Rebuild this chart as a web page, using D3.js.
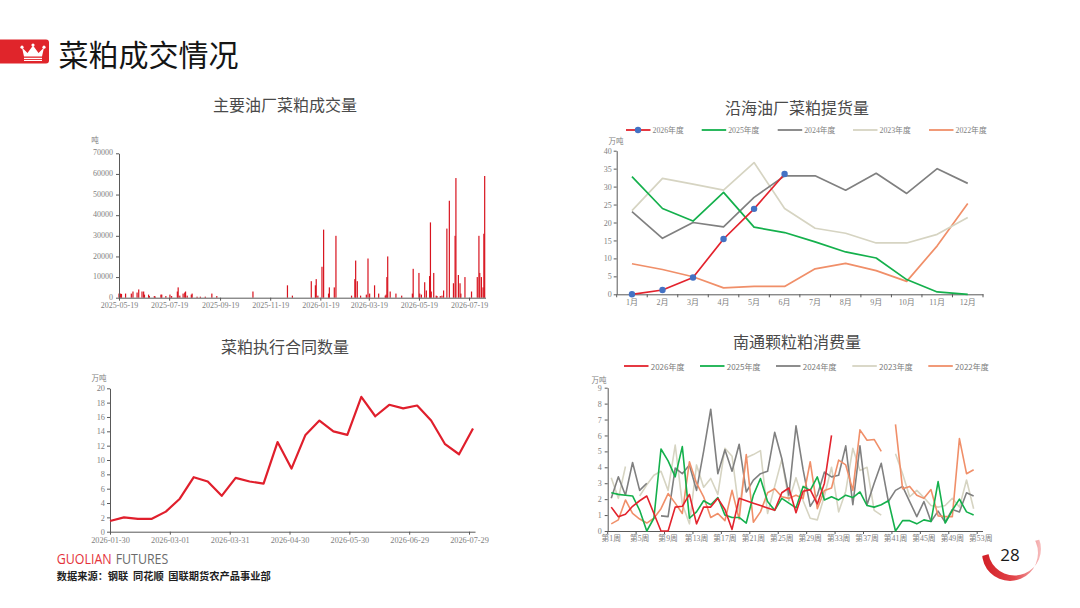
<!DOCTYPE html>
<html><head><meta charset="utf-8">
<script src="https://cdn.jsdelivr.net/npm/d3@7"></script>
<style>body{margin:0;background:#fff}svg{display:block}</style>
</head><body>
<svg id="c" width="1080" height="608"></svg>
<script>
// ---------- DATA ----------
// 主要油厂菜粕成交量 (吨)
const tradeDates = ["2025-05-19","2025-05-21","2025-05-22","2025-05-27","2025-06-03","2025-06-05","2025-06-10","2025-06-12","2025-06-16","2025-06-18","2025-06-19","2025-06-24","2025-06-25","2025-07-01","2025-07-02","2025-07-09","2025-07-10","2025-07-15","2025-07-20","2025-07-22","2025-07-29","2025-07-30","2025-08-01","2025-08-05","2025-08-07","2025-08-08","2025-08-10","2025-08-15","2025-08-16","2025-08-22","2025-08-26","2025-09-01","2025-09-09","2025-09-15","2025-10-29","2025-12-10","2025-12-16","2026-01-08","2026-01-13","2026-01-14","2026-01-16","2026-01-21","2026-01-23","2026-01-29","2026-01-30","2026-02-05","2026-02-07","2026-02-26","2026-03-02","2026-03-03","2026-03-05","2026-03-09","2026-03-16","2026-03-18","2026-03-20","2026-03-26","2026-03-31","2026-04-08","2026-04-09","2026-04-10","2026-04-11","2026-04-14","2026-04-21","2026-04-28","2026-05-11","2026-05-12","2026-05-19","2026-05-20","2026-05-22","2026-05-26","2026-05-28","2026-06-01","2026-06-02","2026-06-03","2026-06-06","2026-06-09","2026-06-10","2026-06-14","2026-06-16","2026-06-18","2026-06-22","2026-06-25","2026-06-30","2026-07-02","2026-07-03","2026-07-06","2026-07-08","2026-07-09","2026-07-14","2026-07-22","2026-07-29","2026-07-31","2026-08-01","2026-08-03","2026-08-05","2026-08-06","2026-08-07"];
const tradeVolumes = [2000,2000,1800,2000,2000,3000,2500,4000,3000,3000,1500,1500,800,800,600,1500,1500,800,1500,800,3000,5000,1000,2000,2500,3000,1000,1500,2000,500,500,500,2000,800,3000,6000,1000,8000,6000,9000,1000,15000,33000,2000,5000,5000,30000,1000,9000,18000,8000,1000,1500,19000,2000,6000,2000,1000,1500,10000,20000,3000,2000,1000,2000,14000,12000,2000,1500,7500,3500,10500,36500,3000,12000,1000,800,800,1000,3500,33500,47000,7000,30000,58000,11000,7000,2000,10000,3000,10000,30000,12000,10000,5000,31000,59000];
const tradeTicks = ["2025-05-19","2025-07-19","2025-09-19","2025-11-19","2026-01-19","2026-03-19","2026-05-19","2026-07-19"];
const tradeYTicks = [0,10000,20000,30000,40000,50000,60000,70000];

// 沿海油厂菜粕提货量 (万吨)
const months = ["1月","2月","3月","4月","5月","6月","7月","8月","9月","10月","11月","12月"];
const pickup2026 = [0,1.2,4.7,15.4,23.8,33.5];
const pickup2025 = [32.8,23.9,20.4,28.4,18.7,17.2,14.6,11.8,10.1,4.1,0.65,0];
const pickup2024 = [23.0,15.6,20.0,18.8,27.0,33.0,33.0,29.0,33.7,28.1,35.0,30.9];
const pickup2023 = [23.3,32.3,30.7,29.0,36.7,23.9,18.4,17.0,14.3,14.3,16.7,21.4];
const pickup2022 = [8.5,6.9,4.9,1.8,2.2,2.2,7.1,8.6,6.6,3.6,13.5,25.3];
const pickupYTicks = [0,5,10,15,20,25,30,35,40];

// 菜粕执行合同数量 (万吨)
const contractDates = ["2026-01-30","2026-02-06","2026-02-13","2026-02-20","2026-02-27","2026-03-06","2026-03-13","2026-03-20","2026-03-27","2026-04-03","2026-04-10","2026-04-17","2026-04-24","2026-05-01","2026-05-08","2026-05-15","2026-05-22","2026-05-29","2026-06-05","2026-06-12","2026-06-19","2026-06-26","2026-07-03","2026-07-10","2026-07-17","2026-07-24","2026-07-31"];
const contractValues = [1.5,2.0,1.8,1.8,2.8,4.6,7.6,7.0,5.0,7.5,7.0,6.7,12.5,8.8,13.5,15.5,14.0,13.5,18.8,16.1,17.7,17.2,17.6,15.5,12.2,10.8,14.4];
const contractTicks = ["2026-01-30","2026-03-01","2026-03-31","2026-04-30","2026-05-30","2026-06-29","2026-07-29"];
const contractYTicks = [0,2,4,6,8,10,12,14,16,18,20];

// 南通颗粒粕消费量 (万吨)
const weekTicks = ["第1周","第5周","第9周","第13周","第17周","第21周","第25周","第29周","第33周","第37周","第41周","第45周","第49周","第53周"];
const cons2026 = [1.5,0.9,1.05,1.55,1.9,2.2,1.1,0,0,1.5, 1.55,2.3,0.45,1.5,1.5,2.05,1.35,0.1,2.05,1.9, 1.75,1.6,1.45,1.3,2.4,2.7,1.15,2.5,2.6,1.7, 3.0,6.0,null,null,null,null,null,null,null,null, null,null,null,null,null,null,null,null,null,null, null,null,null];
const cons2025 = [2.4,2.3,2.25,2.2,1.3,0,0.8,5.15,4.4,3.4, 5.3,0.8,1.2,1.9,1.65,2.1,1.0,0.85,0.85,0.5, 2.25,3.3,1.85,1.3,2.05,1.75,1.45,2.8,2.55,3.4, 1.95,2.15,1.95,2.25,2.1,2.45,1.6,1.5,1.65,1.9, 0,0.65,0.65,0.45,0.7,0.6,3.1,0.5,1.3,2.0, 1.2,1.0,null];
const cons2024 = [2.05,3.4,2.25,4.3,2.55,3.0,null,0.95,0.9,3.95, 3.6,4.15,2.55,5.0,7.65,3.6,5.1,3.75,5.45,2.45, 3.2,3.6,3.75,6.2,4.55,2.25,6.6,3.85,1.55,2.25, 3.7,3.4,3.5,5.35,1.65,5.35,1.65,3.0,4.25,1.85, 2.55,2.8,1.85,0.9,1.85,0.6,1.25,0.55,1.35,1.2, 2.4,2.2,null];
const cons2023 = [3.35,2.05,4.05,null,2.2,2.9,3.5,3.75,2.55,5.4, 1.7,0.45,4.15,2.75,3.3,2.3,5.2,4.7,1.25,4.6, 4.8,5.05,1.1,2.8,4.5,1.9,3.35,1.9,0.8,0.7, 2.2,4.0,1.2,2.5,5.2,3.8,4.0,1.3,1.0,null, 4.85,3.6,2.15,2.55,2.1,1.6,1.5,1.6,2.05,1.5, 3.2,1.4,null];
const cons2022 = [0.45,0.7,1.95,1.1,0.75,0.5,0.8,1.4,2.35,1.75, 1.1,4.35,3.0,2.15,0.85,1.1,0.65,2.55,0.75,4.8, 0.55,1.2,2.4,2.65,2.15,2.05,2.25,2.05,4.35,1.4, 2.55,2.7,4.45,4.15,2.55,6.35,5.7,5.75,5.0,null, 6.7,2.65,2.8,2.25,2.05,2.6,0.95,0.9,0.9,5.8, 3.6,3.85,null];
const consYTicks = [0,1,2,3,4,5,6,7,8,9];

const seriesNames = ["2026年度","2025年度","2024年度","2023年度","2022年度"];
const seriesColors = ["#e3232d","#14b04c","#808080","#d6d4c2","#f08f69"];

// ---------- DRAW ----------
const svg = d3.select("#c");
const serif = "'Liberation Serif','DejaVu Serif','Noto Sans CJK SC',serif";
const sans = "'Noto Sans CJK SC','Noto Sans',sans-serif";
const axisColor = "#595959", labelColor = "#808080";
const parse = d3.timeParse("%Y-%m-%d");
const fmt = d3.timeFormat("%Y-%m-%d");

function styleAxis(g, fs){
  g.select(".domain").attr("stroke", axisColor).attr("stroke-width",1);
  g.selectAll(".tick line").attr("stroke", axisColor);
  g.selectAll(".tick text").attr("fill", labelColor).style("font-family", serif).style("font-size", (fs||8)+"px");
}
function title(x,y,t){
  svg.append("text").attr("x",x).attr("y",y).attr("text-anchor","middle").attr("dominant-baseline","central")
    .style("font-family",sans).style("font-size","16px").style("font-weight","400").attr("fill","#4a4a4a").text(t);
}
function unit(x,y,t){
  svg.append("text").attr("x",x).attr("y",y).attr("text-anchor","middle").attr("dominant-baseline","central")
    .style("font-family",serif).style("font-size","7.5px").attr("fill",labelColor).text(t);
}

// Header
svg.append("rect").attr("x",-6).attr("y",39.5).attr("width",55).attr("height",24).attr("rx",3).attr("fill","#e0252b");
svg.append("path").attr("d","M22,47.5 L27.5,53 L33,45.5 L38.5,53 L44,47.5 L42,56.5 L24,56.5 Z").attr("fill","#fff");
[[22,47.2],[33,45],[44,47.2]].forEach(p=>svg.append("circle").attr("cx",p[0]).attr("cy",p[1]).attr("r",1.6).attr("fill","#fff"));
svg.append("rect").attr("x",24).attr("y",57.8).attr("width",18).attr("height",1.3).attr("fill","#fff");
svg.append("rect").attr("x",24).attr("y",60).attr("width",18).attr("height",1.0).attr("fill","#fff");
svg.append("text").attr("x",58.5).attr("y",52.5).attr("dominant-baseline","central")
  .style("font-family",sans).style("font-size","30px").style("font-weight","400").attr("fill","#151515").text("菜粕成交情况");

// ---- Chart 1: 主要油厂菜粕成交量 ----
title(285,104,"主要油厂菜粕成交量");
unit(95,140,"吨");
const x1 = d3.scaleTime().domain([parse("2025-05-19"),parse("2026-08-08")]).range([119,485.5]);
const y1 = d3.scaleLinear().domain([0,70000]).range([297.7,153.3]);
svg.append("g").selectAll("rect").data(tradeDates.map((d,i)=>({d:parse(d),v:tradeVolumes[i]}))).join("rect")
  .attr("x",d=>x1(d.d)-0.6).attr("width",1.2).attr("y",d=>y1(d.v)).attr("height",d=>y1(0)-y1(d.v)).attr("fill","#d8141f");
const gx1 = svg.append("g").attr("transform","translate(0,297.7)")
  .call(d3.axisBottom(x1).tickValues(tradeTicks.map(parse)).tickFormat(fmt).tickSize(3).tickSizeOuter(0).tickPadding(2));
styleAxis(gx1);
const gy1 = svg.append("g").attr("transform","translate(119,0)")
  .call(d3.axisLeft(y1).tickValues(tradeYTicks).tickFormat(d=>d).tickSize(3).tickSizeOuter(0).tickPadding(3));
styleAxis(gy1);
gy1.selectAll(".tick text").attr("dy","0.2em");

// ---- Chart 2: 沿海油厂菜粕提货量 ----
title(797,107,"沿海油厂菜粕提货量");
unit(616,141,"万吨");
const x2 = d3.scaleBand().domain(months).range([616.7,983]);
const y2 = d3.scaleLinear().domain([0,40]).range([294.3,150.7]);
const bw2 = x2.bandwidth();
const gx2 = svg.append("g").attr("transform","translate(0,294.3)")
  .call(d3.axisBottom(x2).tickSize(0).tickSizeOuter(0).tickPadding(5));
styleAxis(gx2);
gx2.append("g").selectAll("line").data(months.map(m=>x2(m)).concat([x2.range()[1]])).join("line")
  .attr("x1",d=>d).attr("x2",d=>d).attr("y1",0).attr("y2",3).attr("stroke",axisColor);
const gy2 = svg.append("g").attr("transform","translate(616.7,0)")
  .call(d3.axisLeft(y2).tickValues(pickupYTicks).tickSize(3).tickSizeOuter(0).tickPadding(2));
styleAxis(gy2);
const pickupSeries = [pickup2026,pickup2025,pickup2024,pickup2023,pickup2022];
const line2 = d3.line().x((d,i)=>x2(months[i])+bw2/2).y(d=>y2(d));
[4,3,2,1,0].forEach(k=>{
  svg.append("path").attr("d",line2(pickupSeries[k])).attr("fill","none").attr("stroke",seriesColors[k]).attr("stroke-width",1.7).attr("stroke-linejoin","round");
});
svg.append("g").selectAll("circle").data(pickup2026).join("circle")
  .attr("cx",(d,i)=>x2(months[i])+bw2/2).attr("cy",d=>y2(d)).attr("r",3.2).attr("fill","#4472c4");
// legend 2
const leg2X = [626,701.7,777.7,853,929];
seriesNames.forEach((n,k)=>{
  const g = svg.append("g");
  g.append("line").attr("x1",leg2X[k]).attr("x2",leg2X[k]+24.5).attr("y1",130).attr("y2",130).attr("stroke",seriesColors[k]).attr("stroke-width",1.8);
  if(k===0) g.append("circle").attr("cx",leg2X[k]+12).attr("cy",130).attr("r",3.2).attr("fill","#4472c4");
  g.append("text").attr("x",leg2X[k]+26.5).attr("y",130).attr("dominant-baseline","central")
    .style("font-family",serif).style("font-size","7.8px").attr("fill",labelColor).text(n);
});

// ---- Chart 3: 菜粕执行合同数量 ----
title(285,346,"菜粕执行合同数量");
unit(99,378,"万吨");
const x3 = d3.scaleTime().domain([parse("2026-01-30"),parse("2026-08-01")]).range([110,475]);
const y3 = d3.scaleLinear().domain([0,20]).range([531.7,388.3]);
const gx3 = svg.append("g").attr("transform","translate(0,531.7)")
  .call(d3.axisBottom(x3).tickValues(contractTicks.map(parse)).tickFormat(fmt).tickSize(3).tickSizeOuter(0).tickPadding(2));
styleAxis(gx3,8.3);
const gy3 = svg.append("g").attr("transform","translate(110,0)")
  .call(d3.axisLeft(y3).tickValues(contractYTicks).tickSize(3).tickSizeOuter(0).tickPadding(2));
styleAxis(gy3,8.3);
svg.append("path").attr("d",d3.line().x((d,i)=>x3(parse(contractDates[i]))).y(d=>y3(d))(contractValues))
  .attr("fill","none").attr("stroke","#e01f2c").attr("stroke-width",2.2).attr("stroke-linejoin","round");

// ---- Chart 4: 南通颗粒粕消费量 ----
title(797,341,"南通颗粒粕消费量");
unit(599,380,"万吨");
const weeks = cons2025.map((d,i)=>"第"+(i+1)+"周");
const x4 = d3.scaleBand().domain(weeks).range([607.7,984.3]);
const bw4 = x4.bandwidth();
const y4 = d3.scaleLinear().domain([0,9]).range([531,387.7]);
const gx4 = svg.append("g").attr("transform","translate(0,531)")
  .call(d3.axisBottom(x4).tickValues(weekTicks).tickSize(0).tickSizeOuter(0).tickPadding(4));
styleAxis(gx4,7.8);
gx4.select(".domain").attr("d","M607.7,0.5H983");
gx4.append("g").selectAll("line").data(weekTicks.map(w=>x4(w))).join("line")
  .attr("x1",d=>d).attr("x2",d=>d).attr("y1",0).attr("y2",3).attr("stroke",axisColor);
const gy4 = svg.append("g").attr("transform","translate(607.7,0)")
  .call(d3.axisLeft(y4).tickValues(consYTicks).tickSize(3).tickSizeOuter(0).tickPadding(3));
styleAxis(gy4,8);
const consSeries = [cons2026,cons2025,cons2024,cons2023,cons2022];
const line4 = d3.line().defined(d=>d!=null).x((d,i)=>x4(weeks[i])+bw4/2).y(d=>y4(d));
[3,2,4,1,0].forEach(k=>{
  svg.append("path").attr("d",line4(consSeries[k])).attr("fill","none").attr("stroke",seriesColors[k]).attr("stroke-width",1.6).attr("stroke-linejoin","round");
});
const leg4X = [624,700,776,852.3,928.3];
seriesNames.forEach((n,k)=>{
  svg.append("line").attr("x1",leg4X[k]).attr("x2",leg4X[k]+24.5).attr("y1",366).attr("y2",366).attr("stroke",seriesColors[k]).attr("stroke-width",1.8);
  svg.append("text").attr("x",leg4X[k]+26.7).attr("y",366).attr("dominant-baseline","central")
    .style("font-family",sans).style("font-size","8px").attr("fill","#7a7a7a").text(n);
});

// ---- Footer ----
svg.append("text").attr("x",56.7).attr("y",558.5).attr("dominant-baseline","central").attr("textLength",55).attr("lengthAdjust","spacingAndGlyphs")
  .style("font-family","'Open Sans','Noto Sans',sans-serif").style("font-size","14px").attr("fill","#e4323a").text("GUOLIAN");
svg.append("text").attr("x",115.7).attr("y",558.5).attr("dominant-baseline","central").attr("textLength",52.6).attr("lengthAdjust","spacingAndGlyphs")
  .style("font-family","'Open Sans','Noto Sans',sans-serif").style("font-size","14px").attr("fill","#6b6b6b").text("FUTURES");
svg.append("text").attr("x",56.7).attr("y",575.7).attr("dominant-baseline","central").attr("textLength",214).attr("lengthAdjust","spacingAndGlyphs")
  .style("font-family",sans).style("font-size","10px").style("font-weight","700").style("white-space","pre").attr("fill","#1e1e1e")
  .text("数据来源：钢联  同花顺  国联期货农产品事业部");

// page number
const defs = svg.append("defs");
const grad = defs.append("linearGradient").attr("id","pg").attr("x1","0").attr("y1","0").attr("x2","1").attr("y2","0");
grad.append("stop").attr("offset","0").attr("stop-color","#d21f26");
grad.append("stop").attr("offset","0.55").attr("stop-color","#e2454a");
grad.append("stop").attr("offset","1").attr("stop-color","#f7c0c0");
defs.append("clipPath").attr("id","pc").append("polygon").attr("points","975,558 1045,538 1045,595 975,595");
const circ = (cx,cy,r)=>`M${cx-r},${cy}a${r},${r} 0 1,0 ${2*r},0a${r},${r} 0 1,0 ${-2*r},0Z`;
svg.append("path").attr("d",circ(1010,553,28)+circ(1014.5,549,26.5)).attr("fill-rule","evenodd").attr("fill","url(#pg)").attr("clip-path","url(#pc)");
svg.append("text").attr("x",1010).attr("y",554).attr("text-anchor","middle").attr("dominant-baseline","central")
  .style("font-family","'Open Sans','Noto Sans',sans-serif").style("font-size","17px").attr("fill","#1a1a1a").text("28");
</script>
</body></html>
